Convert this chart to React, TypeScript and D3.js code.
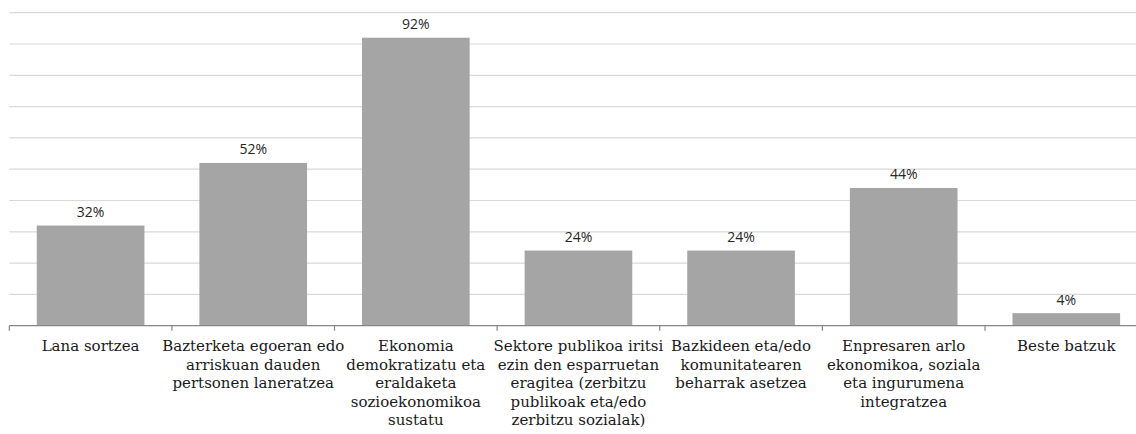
import React, { useEffect, useRef } from "react";
import * as d3 from "d3";

// category labels, already broken into lines as in the original
const categories: string[][] = [
  ["Lana sortzea"],
  ["Bazterketa egoeran edo", "arriskuan dauden", "pertsonen laneratzea"],
  ["Ekonomia", "demokratizatu eta", "eraldaketa", "sozioekonomikoa", "sustatu"],
  ["Sektore publikoa iritsi", "ezin den esparruetan", "eragitea (zerbitzu", "publikoak eta/edo", "zerbitzu sozialak)"],
  ["Bazkideen eta/edo", "komunitatearen", "beharrak asetzea"],
  ["Enpresaren arlo", "ekonomikoa, soziala", "eta ingurumena", "integratzea"],
  ["Beste batzuk"],
];
const values: number[] = [32, 52, 92, 24, 24, 44, 4];
const gridTicks: number[] = d3.range(0, 101, 10);

const W = 1136;
const H = 434;

const App = () => {
  const svgRef = useRef<SVGSVGElement>(null);

  useEffect(() => {
    const svg = d3.select(svgRef.current);
    svg.selectAll("*").remove();

    const left = 9.3;
    const right = 1147.6; // chart is cut off on the right
    const top = 12.7;
    const bottom = 325.7;

    const keys = categories.map((_, i) => String(i));
    const x = d3
      .scaleBand()
      .domain(keys)
      .range([left, right])
      .paddingInner(0.338)
      .paddingOuter(0.169);
    const y = d3.scaleLinear().domain([0, 100]).range([bottom, top]);

    // gridlines
    svg
      .append("g")
      .selectAll("line")
      .data(gridTicks.filter((d) => d > 0))
      .enter()
      .append("line")
      .attr("x1", left)
      .attr("x2", W)
      .attr("y1", (d) => y(d))
      .attr("y2", (d) => y(d))
      .attr("stroke", "#d9d9d9")
      .attr("stroke-width", 1.2);

    // bars
    svg
      .append("g")
      .selectAll("rect")
      .data(values)
      .enter()
      .append("rect")
      .attr("x", (_, i) => x(String(i))!)
      .attr("width", x.bandwidth())
      .attr("y", (d) => y(d))
      .attr("height", (d) => bottom - y(d))
      .attr("fill", "#a5a5a5");

    // value labels
    svg
      .append("g")
      .selectAll("text")
      .data(values)
      .enter()
      .append("text")
      .attr("x", (_, i) => x(String(i))! + x.bandwidth() / 2)
      .attr("y", (d) => y(d) - 8.5)
      .attr("text-anchor", "middle")
      .attr("font-family", "'Open Sans', sans-serif")
      .attr("font-size", 14)
      .attr("fill", "#262626")
      .text((d) => d + "%");

    // x axis line and ticks
    const axis = svg.append("g").attr("stroke", "#868686").attr("stroke-width", 1.2);
    axis.append("line").attr("x1", left).attr("x2", W).attr("y1", bottom).attr("y2", bottom);
    const step = x.step();
    axis
      .selectAll("line.tick")
      .data(d3.range(categories.length + 1))
      .enter()
      .append("line")
      .attr("class", "tick")
      .attr("x1", (i) => left + i * step)
      .attr("x2", (i) => left + i * step)
      .attr("y1", bottom)
      .attr("y2", bottom + 5);

    // category labels
    const cat = svg
      .append("g")
      .selectAll("text")
      .data(categories)
      .enter()
      .append("text")
      .attr("text-anchor", "middle")
      .style("font-family", "'DejaVu Serif', serif")
      .attr("font-size", 15)
      .attr("fill", "#1a1a1a");
    cat.each(function (lines, i) {
      const cx = x(String(i))! + x.bandwidth() / 2;
      d3.select(this)
        .selectAll("tspan")
        .data(lines)
        .enter()
        .append("tspan")
        .attr("x", cx)
        .attr("y", (_, j) => 351 + j * 18.6)
        .text((d) => d);
    });
  }, []);

  return (
    <svg
      ref={svgRef}
      width={W}
      height={H}
      style={{ position: "absolute", left: 0, top: 0, background: "#fff" }}
    />
  );
};

export default App;
